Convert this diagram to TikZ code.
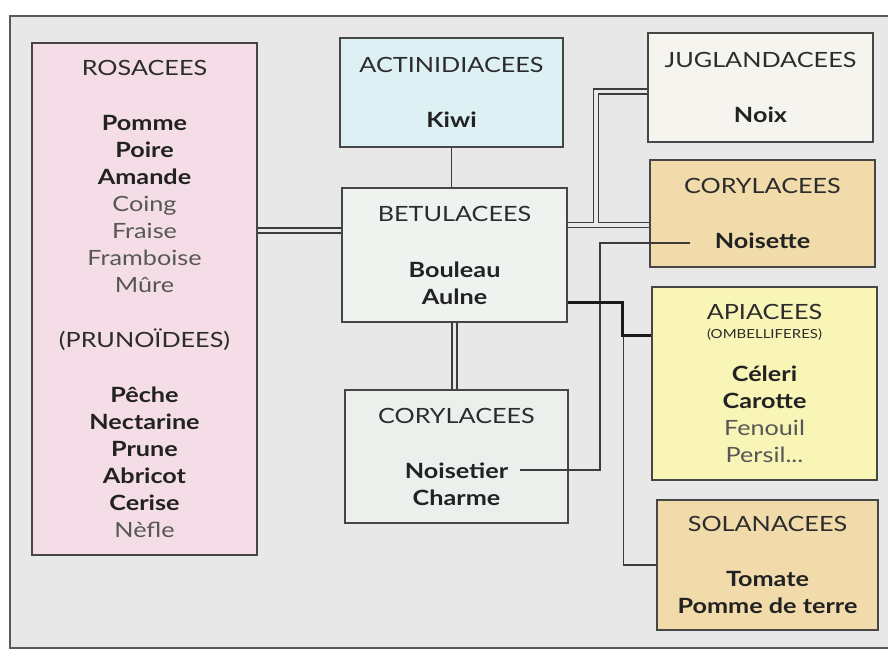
\documentclass[tikz,border=0pt]{standalone}
\usepackage{fontspec}
\setmainfont{Lato}[FakeStretch=1.2]
\usetikzlibrary{positioning,calc}

\definecolor{bggray}{HTML}{E8E8E9}
\definecolor{framegray}{HTML}{5A5A5A}
\definecolor{boxline}{HTML}{464646}
\definecolor{linegray}{HTML}{3C3C3C}
\definecolor{darkline}{HTML}{1A1A1A}
\definecolor{titlegray}{HTML}{2C2C2C}
\definecolor{darktext}{HTML}{222222}
\definecolor{softtext}{HTML}{575757}
\definecolor{rosefill}{HTML}{F4DDE6}
\definecolor{kiwifill}{HTML}{DDF0F3}
\definecolor{betufill}{HTML}{EFF3EF}
\definecolor{corylfill}{HTML}{EBF0EC}
\definecolor{juglfill}{HTML}{F6F4EF}
\definecolor{tanfill}{HTML}{F1DBAA}
\definecolor{apifill}{HTML}{F8F5B6}

\newcommand{\fb}[1]{\textbf{\textcolor{darktext}{#1}}}
\newcommand{\fs}[1]{\textcolor{softtext}{#1}}

\tikzset{
  family/.style={draw=boxline, line width=1.4pt, align=center, inner sep=0pt,
    text=titlegray, font=\fontsize{21}{27}\selectfont},
  link/.style={draw=linegray, line width=1.4pt},
  biglink/.style={draw=darkline, line width=3pt},
  twin/.style={draw=linegray, line width=1.3pt, double=bggray, double distance=3.8pt}
}

\begin{document}
\begin{tikzpicture}[x=1pt,y=-1pt]
  \useasboundingbox (0,0) rectangle (888,652);
  \draw[draw=framegray, line width=1.6pt, fill=bggray] (10,16) rectangle (896,648);

  \node (ros) [family, fill=rosefill, minimum width=225pt, minimum height=512pt] at (144.5,299)
    {ROSACEES\\[28pt]\fb{Pomme}\\\fb{Poire}\\\fb{Amande}\\\fs{Coing}\\\fs{Fraise}\\\fs{Framboise}\\\fs{Mûre}\\[28pt]
     (PRUNOÏDEES)\\[28pt]\fb{Pêche}\\\fb{Nectarine}\\\fb{Prune}\\\fb{Abricot}\\\fb{Cerise}\\\fs{Nèfle}};
  \node (act) [family, fill=kiwifill, minimum width=223pt, minimum height=109pt] at (451.5,92.5)
    {ACTINIDIACEES\\[28pt]\fb{Kiwi}};
  \node (bet) [family, fill=betufill, minimum width=225pt, minimum height=134pt] at (454.5,255)
    {BETULACEES\\[29pt]\fb{Bouleau}\\\fb{Aulne}};
  \node (cor) [family, fill=corylfill, minimum width=223pt, minimum height=133pt] at (456.5,456.5)
    {CORYLACEES\\[28pt]\fb{Noisetier}\\\fb{Charme}};
  \node (jug) [family, fill=juglfill, minimum width=225pt, minimum height=109pt] at (760.5,87.5)
    {JUGLANDACEES\\[28pt]\fb{Noix}};
  \node (cory) [family, fill=tanfill, minimum width=225pt, minimum height=107pt] at (762.5,213.5)
    {CORYLACEES\\[28pt]\fb{Noisette}};
  \node (api) [family, fill=apifill, minimum width=225pt, minimum height=193pt] at (764.5,383.5)
    {APIACEES\\[-8pt]{\fontsize{12.5}{15}\selectfont (OMBELLIFERES)}\\[16pt]
     \fb{Céleri}\\\fb{Carotte}\\\fs{Fenouil}\\\fs{Persil...}};
  \node (sol) [family, fill=tanfill, minimum width=221pt, minimum height=130pt] at (767.5,565)
    {SOLANACEES\\[28pt]\fb{Tomate}\\\fb{Pomme de terre}};

  \coordinate (fork) at (596,225);
  \coordinate (rosjoin) at ($(bet.west)+(0,-24.5)$);
  \coordinate (noisette) at ($(cory.center)+(-72.5,29.5)$);
  \coordinate (noisetier) at ($(cor.center)+(63.5,13.5)$);

  \draw[link] (act.south) to (act.south |- bet.north);
  \draw[twin] (rosjoin) to (rosjoin -| ros.east);
  \draw[twin] (bet.south) to (bet.south |- cor.north);
  \draw[twin] ($(jug.west)+(0,4)$) -| (fork) -- (fork -| cory.west);
  \draw[twin, shorten >=2.5pt] ($(bet.east)+(0,-30)$) to (fork);
  \draw[link] (noisette) -- ++(-90,0) |- (noisetier);
  \draw[link] ($(bet.east)+(0,47)$) -- ++(56,0) |- (sol.west);
  \draw[biglink] ($(bet.east)+(0,47)$) -- ++(55,0) |- ($(api.west)+(0,-48.5)$);
\end{tikzpicture}
\end{document}
